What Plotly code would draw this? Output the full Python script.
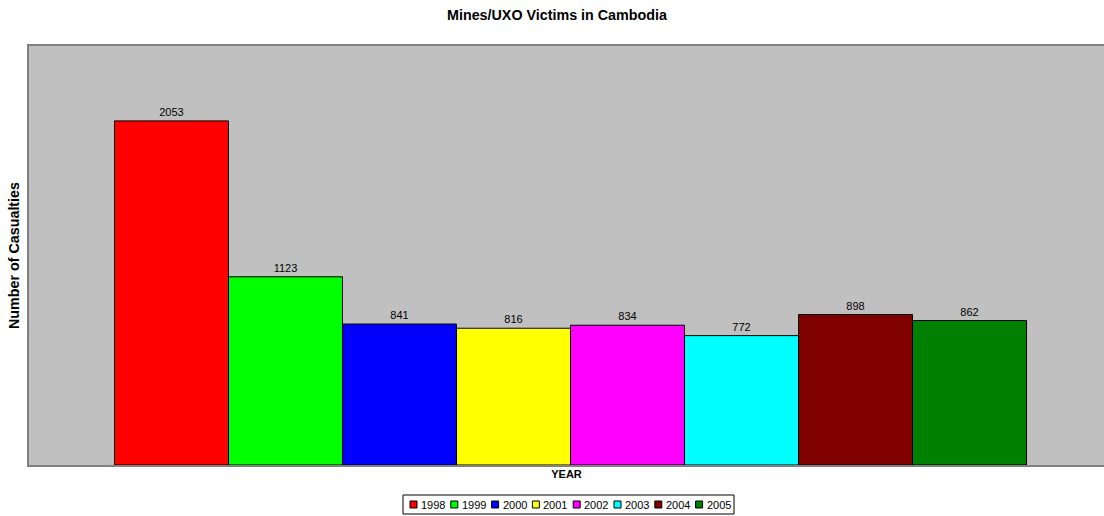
import plotly.graph_objects as go

years = ["1998", "1999", "2000", "2001", "2002", "2003", "2004", "2005"]
casualties = [2053, 1123, 841, 816, 834, 772, 898, 862]
colors = ["#FF0000", "#00FF00", "#0000FF", "#FFFF00", "#FF00FF", "#00FFFF", "#800000", "#008000"]

W, H = 1104, 516
ML, MR, MT, MB = 29, 0, 46, 51
PW, PH = W - ML - MR, H - MT - MB


def px_x(x):
    return (x - ML) / PW


def px_y(y):
    return (H - MB - y) / PH


fig = go.Figure()
for yr, val, col in zip(years, casualties, colors):
    fig.add_trace(go.Bar(
        x=["YEAR"], y=[val], name=yr,
        marker=dict(color=col, line=dict(color="black", width=1)),
        text=[str(val)], textposition="outside",
        textfont=dict(family="Arial", size=11, color="black"),
        cliponaxis=False, showlegend=False,
    ))

# legend box drawn to match the reference's compact legend
shapes = [dict(type="rect", xref="paper", yref="paper",
               x0=px_x(403), x1=px_x(734), y0=px_y(514), y1=px_y(495),
               line=dict(color="black", width=1), fillcolor="white", layer="above")]
annotations = []
step = 40.8
for i, (yr, col) in enumerate(zip(years, colors)):
    sx = 410 + step * i
    shapes.append(dict(type="rect", xref="paper", yref="paper",
                       x0=px_x(sx), x1=px_x(sx + 7), y0=px_y(508), y1=px_y(501),
                       line=dict(color="black", width=1), fillcolor=col, layer="above"))
    annotations.append(dict(text=yr, xref="paper", yref="paper", x=px_x(sx + 9), y=px_y(504.5),
                            xanchor="left", yanchor="middle", showarrow=False,
                            font=dict(family="Arial", size=11, color="black")))

off = 4 / (PW * 0.8484 / 0.8484) * 1.0  # small shift of the category centre (px -> category units)
fig.update_layout(
    width=W, height=H,
    margin=dict(l=ML, r=MR, t=MT, b=MB, autoexpand=False),
    paper_bgcolor="white", plot_bgcolor="#C0C0C0",
    barmode="group", bargap=0.1516, bargroupgap=0,
    title=dict(text="<b>Mines/UXO Victims in Cambodia</b>", x=0.5045, xanchor="center",
               y=0.971, yanchor="middle",
               font=dict(family="Arial", size=14.3, color="black")),
    font=dict(family="Arial", size=11, color="black"),
    showlegend=False,
    shapes=shapes,
    annotations=annotations,
    xaxis=dict(showticklabels=False, showgrid=False, zeroline=False, automargin=False,
               range=[-0.5 - off, 0.5 - off],
               showline=True, mirror=True, linecolor="#808080", linewidth=2,
               title=dict(text="<b>YEAR</b>", standoff=4, font=dict(family="Arial", size=11))),
    yaxis=dict(range=[0, 2500], showticklabels=False, showgrid=False, zeroline=False,
               automargin=False,
               showline=True, linecolor="#808080", linewidth=2, ticks="",
               title=dict(text="<b>Number of Casualties</b>", standoff=4,
                          font=dict(family="Arial", size=14.3))),
)

fig.write_html("out.html", config={"displayModeBar": False},
               post_script="document.body.style.margin='0';document.body.style.overflow='hidden';")
